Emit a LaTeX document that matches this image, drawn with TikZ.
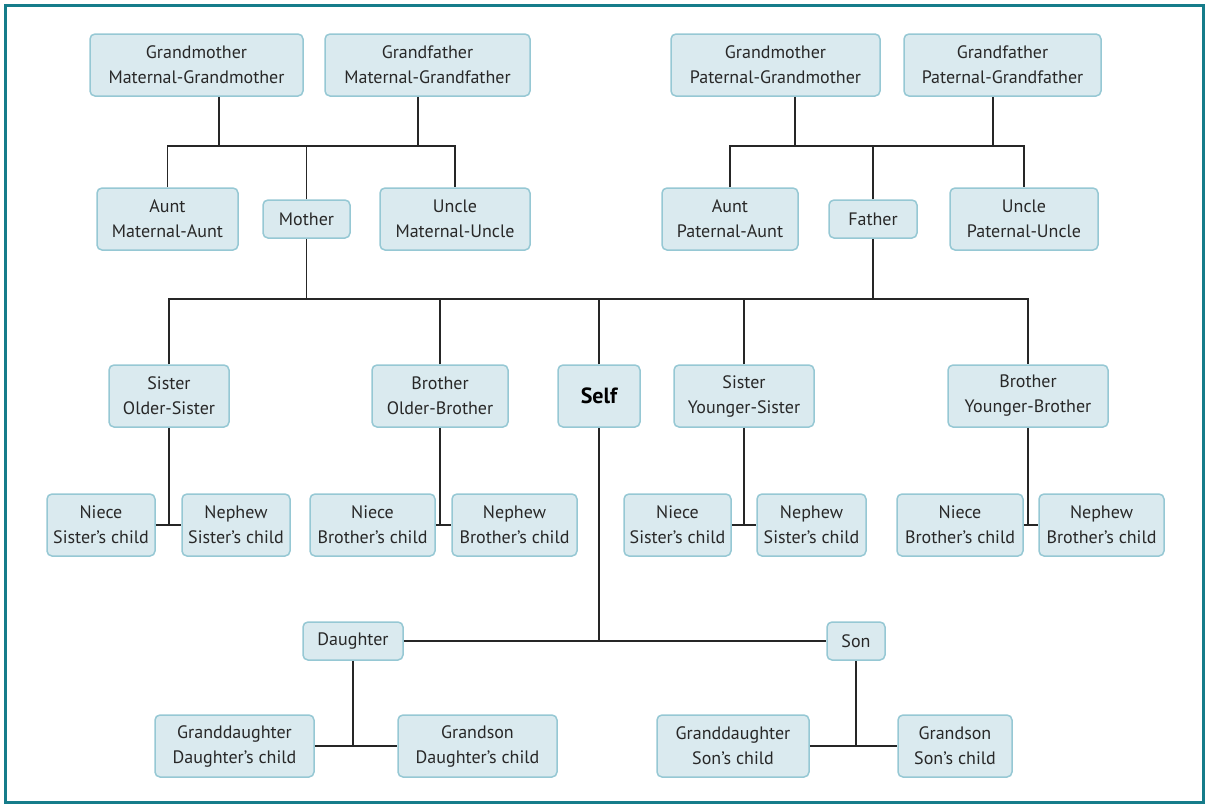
\documentclass[tikz,border=0pt]{standalone}
\usepackage{fontspec}
\setmainfont{PT Sans}
\usepackage{tikz}
\usepackage{xcolor}
\definecolor{boxfill}{RGB}{218,234,239}
\definecolor{boxline}{RGB}{150,200,212}
\definecolor{frameteal}{RGB}{22,124,138}
\definecolor{textgrey}{RGB}{40,40,40}

\begin{document}
\begin{tikzpicture}[x=1pt,y=-1pt,
  box/.style={draw=boxline,fill=boxfill,line width=1.5pt,rounded corners=5pt,
    align=center,text=textgrey,inner sep=2pt,
    font=\fontsize{18}{25}\selectfont},
  two/.style={box,minimum height=62pt},
  one/.style={box,minimum height=38pt},
  link/.style={draw=black!85,line width=1.2pt}]
  \useasboundingbox (0,0) rectangle (1208,804);
  \draw[frameteal,line width=3pt] (5,5) rectangle (1203,802);

  % grandparents
  \node[two,minimum width=213] (gmm) at (196.5,65) {Grandmother\\Maternal-Grandmother};
  \node[two,minimum width=205] (gfm) at (427.5,65) {Grandfather\\Maternal-Grandfather};
  \node[two,minimum width=209] (gmp) at (775.5,65) {Grandmother\\Paternal-Grandmother};
  \node[two,minimum width=197] (gfp) at (1002.5,65) {Grandfather\\Paternal-Grandfather};

  % parents, aunts and uncles
  \node[two,minimum width=141] (maunt) at (167.5,219) {Aunt\\Maternal-Aunt};
  \node[one,minimum width=87] (mother) at (306.5,219) {Mother};
  \node[two,minimum width=150] (muncle) at (455,219) {Uncle\\Maternal-Uncle};
  \node[two,minimum width=136] (paunt) at (730,219) {Aunt\\Paternal-Aunt};
  \node[one,minimum width=88] (father) at (873,219) {Father};
  \node[two,minimum width=148] (puncle) at (1024,219) {Uncle\\Paternal-Uncle};

  % siblings
  \node[two,minimum width=120] (sisO) at (169,396) {Sister\\Older-Sister};
  \node[two,minimum width=136] (broO) at (440,396) {Brother\\Older-Brother};
  \node[two,minimum width=82,text=black,font=\fontsize{22}{25}\selectfont\bfseries] (self) at (599,396) {Self};
  \node[two,minimum width=140] (sisY) at (744,396) {Sister\\Younger-Sister};
  \node[two,minimum width=160] (broY) at (1028,396) {Brother\\Younger-Brother};

  % nieces and nephews
  \node[two,minimum width=108] (nieceA) at (101,525) {Niece\\Sister’s child};
  \node[two,minimum width=108] (nephewA) at (236,525) {Nephew\\Sister’s child};
  \node[two,minimum width=125] (nieceB) at (372.5,525) {Niece\\Brother’s child};
  \node[two,minimum width=125] (nephewB) at (514.5,525) {Nephew\\Brother’s child};
  \node[two,minimum width=107] (nieceC) at (677.5,525) {Niece\\Sister’s child};
  \node[two,minimum width=109] (nephewC) at (811.5,525) {Nephew\\Sister’s child};
  \node[two,minimum width=126] (nieceD) at (960,525) {Niece\\Brother’s child};
  \node[two,minimum width=125] (nephewD) at (1101.5,525) {Nephew\\Brother’s child};

  % children
  \node[one,minimum width=100] (daughter) at (353,641) {Daughter};
  \node[one,minimum width=58] (son) at (856,641) {Son};

  % grandchildren
  \node[two,minimum width=159] (gdD) at (234.5,746) {Granddaughter\\Daughter’s child};
  \node[two,minimum width=159] (gsD) at (477.5,746) {Grandson\\Daughter’s child};
  \node[two,minimum width=152] (gdS) at (733,746) {Granddaughter\\Son’s child};
  \node[two,minimum width=114] (gsS) at (955,746) {Grandson\\Son’s child};

  % legs from the grandparents
  \coordinate (gbar) at (0,146);
  \coordinate (gmmleg) at (219,146);
  \coordinate (gfmleg) at (418,146);
  \coordinate (gmpleg) at (795,146);
  \coordinate (gfpleg) at (993,146);
  \draw[link] (gmmleg |- gmm.south) -- (gmmleg);
  \draw[link] (gfmleg |- gfm.south) -- (gfmleg);
  \draw[link] (gmpleg |- gmp.south) -- (gmpleg);
  \draw[link] (gfpleg |- gfp.south) -- (gfpleg);
  \draw[link] (maunt.north) |- (muncle.north |- gbar) -- (muncle.north);
  \draw[link] (mother.north) -- (mother.north |- gbar);
  \draw[link] (paunt.north) |- (puncle.north |- gbar) -- (puncle.north);
  \draw[link] (father.north) -- (father.north |- gbar);

  % parents down to the siblings
  \coordinate (sbar) at (0,299);
  \draw[link] (mother.south) -- (mother.south |- sbar);
  \draw[link] (father.south) -- (father.south |- sbar);
  \draw[link] (sisO.north) |- (broY.north |- sbar) -- (broY.north);
  \foreach \n in {broO,self,sisY}
    \draw[link] (\n.north) -- (\n.north |- sbar);

  % siblings down to their children
  \draw[link] (sisO.south) -- (sisO.south |- nieceA.east);
  \draw[link] (nieceA.east) -- (nephewA.west);
  \draw[link] (broO.south) -- (broO.south |- nieceB.east);
  \draw[link] (nieceB.east) -- (nephewB.west);
  \draw[link] (sisY.south) -- (sisY.south |- nieceC.east);
  \draw[link] (nieceC.east) -- (nephewC.west);
  \draw[link] (broY.south) -- (broY.south |- nieceD.east);
  \draw[link] (nieceD.east) -- (nephewD.west);

  % own line
  \draw[link] (self.south) -- (self.south |- daughter.east);
  \draw[link] (daughter.east) -- (son.west);
  \draw[link] (daughter.south) -- (daughter.south |- gdD.east);
  \draw[link] (gdD.east) -- (gsD.west);
  \draw[link] (son.south) -- (son.south |- gdS.east);
  \draw[link] (gdS.east) -- (gsS.west);
\end{tikzpicture}
\end{document}
